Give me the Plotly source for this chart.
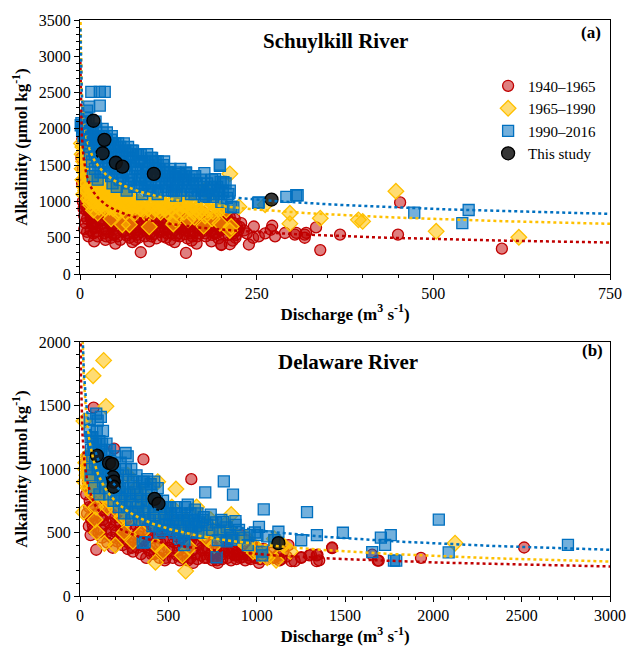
import numpy as np
import plotly.graph_objects as go
from plotly.subplots import make_subplots

# ---------------- Schuylkill River (a) ----------------
s_red_x = [2,3,2,4,5,3,6,8,4,7,9,6,10,8,
           12,14,16,18,11,13,20,15,22,17,24,15,19,23,20,25,
           27,30,33,28,35,38,31,42,45,36,40,48,44,36,50,46,49,
           52,56,60,54,64,58,68,72,62,76,66,70,78,74,75,70,78,55,
           82,88,94,84,100,90,106,96,86,104,92,108,98,86,105,110,
           112,118,126,114,132,120,138,124,116,130,136,122,128,134,135,140,
           142,150,158,146,164,154,168,144,160,148,166,152,150,165,158,162,
           172,180,188,176,194,184,198,174,190,178,196,186,200,196,
           204,212,208,218,222,206,214,210,220,216,212,198,
           228,239,246,245,253,262,270,272,276,290,304,306,318,318,320,334,340,368,450,453,597,200]
s_red_y = [2000,1850,1600,1450,1300,1250,1150,1050,1000,950,880,800,760,700,
           1200,1100,1020,950,900,850,800,760,720,680,640,600,560,580,450,520,
           1000,950,900,860,820,780,740,700,660,620,580,540,500,470,420,880,760,
           900,850,800,760,720,690,650,620,590,560,530,500,470,440,880,820,780,700,
           920,860,800,760,720,680,640,610,580,550,520,490,450,300,850,740,
           900,840,800,760,720,690,650,620,590,560,530,500,470,440,870,780,
           880,830,790,750,710,680,640,610,580,550,520,490,290,420,460,850,
           860,800,770,730,690,650,620,590,560,520,490,450,400,820,
           830,780,740,700,660,620,580,540,500,460,410,655,
           700,407,655,500,520,560,610,665,520,565,543,566,543,500,566,642,330,543,543,986,349,407]
s_red_x2 = [5,7,9,11,13,6,10,12,14,16,18,21,23,26,28,30,32,34,37,39,41,43,46,47,51,53,57,59,61,63,
            65,67,69,71,73,77,79,81,83,85,87,89,91,93,95,97,99,101,103,107,109,111,113,117,119,121,123,127,129,131,
            133,137,139,141,143,145,147,149,151,153,156,159,161,163,167,169,171,175,177,179,181,183,185,187,189,191,193,195,197,199,
            201,203,205,207,209,211,213,217,219,221,224,226,232,236]
s_red_y2 = [900,1100,1200,1000,950,620,580,520,870,780,700,640,900,820,760,690,620,560,520,860,800,740,680,610,560,520,470,780,720,660,
            600,560,840,760,700,640,600,540,500,860,720,660,600,760,700,640,560,520,860,780,700,640,580,520,700,620,560,860,760,660,
            600,700,560,520,700,760,640,600,700,640,560,520,760,700,600,560,700,640,560,760,700,640,600,540,700,620,560,760,660,600,
            700,560,640,700,760,660,620,560,760,540,600,650,600,560]

s_yel_x = [2,4,3,6,5,8,3,7,9,4,10,6,8,5,
           12,15,18,13,20,16,24,14,22,27,19,25,
           32,36,40,34,45,38,50,42,55,56,44,60,
           62,68,75,65,82,72,88,78,70,98,
           102,108,115,105,120,112,138,135,132,
           142,150,158,146,165,162,175,
           176,185,192,200,188,198,212,
           225,212,262,297,297,340,394,400,447,504,621,214]
s_yel_y = [1800,1750,1650,1600,1550,1500,1450,1400,1350,1300,1250,1200,1150,1100,
           1350,1300,1250,1200,1150,1100,1050,1000,960,920,880,840,
           1250,1200,1150,1100,1050,1000,960,920,880,1150,760,680,
           1150,1100,1050,1000,960,920,880,840,680,650,
           1100,1050,1000,960,920,880,1050,760,690,
           1080,1020,980,940,900,780,660,
           1150,1000,950,900,860,700,600,
           925,1380,955,837,694,769,746,725,1140,588,506,655]
s_yel_x2 = [11,13,15,17,19,21,23,26,28,30,31,33,35,37,39,41,43,46,47,49,51,53,54,57,59,61,63,64,66,69,
            71,74,76,79,84,86,89,91,94,96,101,103,106,111,114,117,121,124,126,129,133,136,137,141,147,149,153,156,161,163,
            169,173,177,181,187,196,207]
s_yel_y2 = [1150,1050,950,1150,1300,1000,1200,1150,1050,950,1100,1000,900,1250,1100,1050,950,1100,900,1000,1200,850,1050,950,1100,900,1000,850,950,1000,
            900,1000,900,950,1000,900,950,850,1000,900,950,850,900,950,850,950,900,850,950,900,1000,850,950,900,850,950,750,900,850,950,
            850,900,800,880,760,900,880]

s_blu_x = [16,28,35,13,28,2,4,8,10,12,
           1,3,6,15,18,22,25,12,28,20,14,24,17,26,21,29,22,18,25,
           32,38,45,35,50,42,55,33,48,58,40,52,36,44,56,46,52,
           62,68,75,82,70,88,65,78,95,85,72,92,80,98,66,88,95,100,
           102,110,118,106,125,132,114,138,122,130,110,136,135,140,
           142,150,158,146,165,155,172,162,178,176,150,175,
           198,191,199,203,198,185,195,210,188,217,200,214,253,252,292,306,308,473,550,541]
s_blu_y = [2510,2510,2510,2306,2320,2080,2020,2150,2250,2100,
           2050,1980,1900,2000,1950,1900,1850,1800,1750,1700,1650,1600,1550,1500,1450,1400,2100,1350,1300,
           2000,1950,1900,1850,1800,1750,1700,1650,1600,1550,1500,1450,1400,1350,1300,1250,1200,
           1800,1750,1700,1650,1600,1550,1500,1450,1400,1350,1300,1250,1200,1150,1150,1100,1650,1600,
           1600,1550,1500,1450,1400,1350,1300,1250,1200,1150,1100,1080,1400,1380,
           1450,1400,1350,1300,1250,1200,1150,1100,1080,1389,1389,1062,
           1506,1307,1270,1266,1492,1200,1150,1100,1062,918,995,927,986,981,1062,1085,1085,846,882,701]
s_blu_x2 = [5,7,9,11,13,14,16,19,21,23,24,26,27,29,30,31,33,34,36,37,39,40,41,43,44,46,47,49,51,53,
            54,56,57,59,60,61,63,64,66,67,69,71,73,74,76,77,79,81,83,84,86,87,89,91,93,94,96,97,99,101,
            103,104,107,108,111,112,115,116,119,120,123,124,127,128,131,133,134,137,139,143,145,148,152,154,157,160,163,167,170,174,
            177,180,183,187,190,194,197,202,206,208,212]
s_blu_y2 = [1900,2050,1850,1950,1750,2000,1850,1800,1650,2000,1750,1900,1650,1850,1550,1750,1900,1500,1700,1850,1600,1800,1400,1650,1850,1550,1750,1450,1650,1350,
            1800,1550,1750,1400,1650,1300,1500,1700,1400,1600,1250,1500,1700,1350,1550,1200,1650,1450,1300,1550,1650,1200,1400,1550,1300,1450,1200,1500,1350,1250,
            1450,1150,1550,1350,1250,1450,1150,1350,1550,1250,1400,1150,1300,1450,1250,1150,1350,1200,1300,1150,1350,1250,1150,1300,1100,1250,1350,1150,1300,1200,
            1100,1250,1150,1300,1100,1200,1100,1150,1250,1050,1150]

s_blk_x = [19,34.5,32,50.7,60,104.5,271]
s_blk_y = [2112,1849,1664,1533,1479,1379,1026]

# power-law trend lines y = a * x^b  (red, yellow, blue)
s_fit_a = [2443, 3109, 2959]
s_fit_b = [-0.261, -0.227, -0.192]

# ---------------- Delaware River (b) ----------------
d_red_x = [30,40,50,45,60,35,55,70,40,65,50,75,92,77,60,85,
           110,140,170,200,230,260,120,150,180,210,240,270,300,130,250,180,193,290,
           320,350,380,410,440,470,330,360,390,420,450,480,359,460,330,
           510,540,570,600,630,660,690,520,550,580,610,640,630,700,680,
           710,740,770,800,830,860,890,720,750,780,880,850,
           910,940,970,1000,1030,1060,1100,1130,1013,958,917,1150,1180,1197,
           1252,1252,1298,1307,1340,1344,1354,1340,1427,1427,1654,1691,1685,1930,2514,1215]
d_red_y = [1050,1000,950,900,850,800,750,700,650,600,550,520,364,1483,480,1050,
           720,680,650,620,580,550,520,490,460,430,400,370,350,600,500,700,1160,440,
           650,600,560,520,480,450,420,390,360,330,300,280,1075,550,500,
           600,560,520,480,440,400,380,350,320,300,280,260,920,450,500,
           550,500,460,420,380,350,320,300,280,260,400,450,
           480,440,400,380,350,320,300,280,261,300,305,350,400,274,
           300,305,320,325,320,325,280,274,377,382,325,279,279,300,382,274]
d_red_x2 = [42,48,52,58,62,66,72,78,82,88,95,100,105,115,125,135,145,155,165,175,185,195,205,215,225,235,245,255,265,275,
            285,295,305,315,325,335,345,355,365,375,385,395,405,415,425,435,445,455,465,475,485,495,505,515,525,535,545,555,565,575,
            585,595,605,615,625,635,645,655,665,675,685,695,705,715,725,735,745,755,765,775,785,795,805,815,825,835,845,855,865,875,
            885,895,905,915,925,935,945,955,965,975,985,995,1005,1020,1040,1060,1080,1090,1120,1140,1170]
d_red_y2 = [1100,850,700,620,950,800,560,900,640,760,580,820,500,620,460,560,700,420,580,520,380,560,500,660,460,520,440,600,480,420,
            540,380,460,560,380,470,330,520,440,300,480,400,330,460,380,560,340,420,500,360,300,440,380,500,300,420,470,360,280,430,
            380,520,340,420,300,360,480,330,290,420,320,360,300,440,360,320,400,300,350,280,380,320,290,350,420,300,340,280,380,320,
            290,350,300,400,330,280,360,320,290,400,330,300,350,290,370,290,340,300,320,290,310]

d_yel_x = [134,74,147,22,543,427,598,856,1110,138,2123,
           40,60,30,50,80,45,70,90,85,95,20,
           110,150,130,180,210,160,240,270,250,200,270,300,
           320,360,400,340,420,350,430,470,440,480,
           520,600,680,720,760,580,620,660,740,780,
           820,860,900,940,980,1020,1060,1100,1150,1190]
d_yel_y = [1855,1734,1493,1377,842,266,196,641,281,413,416,
           1100,1050,1000,950,900,850,800,700,600,500,660,
           1000,950,900,850,800,750,700,600,500,400,950,430,
           850,800,750,700,600,500,400,350,900,620,
           700,600,500,450,400,320,380,700,600,500,
           560,500,450,400,350,320,300,450,400,350]
d_yel_x2 = [25,32,38,48,58,68,78,92,98,115,135,155,165,185,205,215,235,245,265,285,
            315,335,355,385,415,435,455,485,505,535,565,585,615,645,675,705,725,775,805,850,
            880,910,940,1000,1080,1130]
d_yel_y2 = [900,1050,950,1000,900,950,850,950,800,900,800,700,900,750,680,850,620,760,680,800,
            700,620,750,680,640,560,700,560,620,560,520,600,520,560,520,500,560,520,480,520,
            460,440,460,380,360,420]

d_blu_x = [92,118,55,100,130,70,110,150,80,258,270,
           60,90,120,70,140,100,60,130,80,110,140,
           170,200,230,260,180,210,240,280,190,220,250,290,290,300,
           320,360,400,440,340,380,420,330,370,410,450,355,380,420,
           470,510,550,590,630,670,610,650,700,480,520,560,590,
           709,814,866,1040,1285,740,800,810,880,1013,1123,1004,856,780,950,1031,773,960,860,880,1030,830,
           1252,1341,1488,1703,1759,1727,1654,1777,1790,2031,2087,2762]
d_blu_y = [1436,1410,1395,1380,1300,1250,1220,1200,1150,1126,1100,
           1250,1200,1150,1100,1050,1000,950,900,850,800,950,
           1150,1100,1050,1000,950,900,850,800,750,700,650,600,1000,900,
           950,900,880,850,800,750,700,650,600,550,500,420,920,900,
           750,700,650,600,550,500,720,680,620,560,520,450,400,
           816,902,798,682,661,640,600,584,560,545,506,480,442,440,400,320,305,480,460,590,350,430,
           439,480,498,460,480,403,346,279,279,602,344,403]
d_blu_x2 = [55,62,68,75,85,95,105,115,125,135,145,155,160,165,175,185,195,205,215,225,235,245,255,265,275,285,295,305,315,325,
            335,345,350,365,375,385,395,405,415,425,435,445,455,465,475,485,495,505,515,525,535,545,555,565,575,585,595,605,615,625,
            635,645,655,665,675,685,695,720,750,770,790,830,850,900,930,990,1060,1100,366,590]
d_blu_y2 = [1300,1150,1000,1200,1050,1300,1100,950,1200,1000,850,1100,950,800,1050,900,1000,800,950,850,750,950,800,700,900,750,650,850,700,800,
            600,750,900,650,850,700,600,800,650,550,750,600,700,520,650,600,700,550,650,600,500,700,600,550,650,500,700,600,550,650,
            500,600,550,650,580,500,600,560,520,580,500,540,480,520,460,500,470,440,424,430]

d_blk_x = [96,164,182,186,191,190,422,444,1123]
d_blk_y = [1106,1048,1039,935,900,860,765,727,416]

d_fit_a = [2925, 5412, 4757]
d_fit_b = [-0.316, -0.374, -0.321]

series_names = ["1940\u20131965", "1965\u20131990", "1990\u20132016", "This study"]
# ---------------------------------------------------------

FONT = "Liberation Serif, Times New Roman, serif"
RED_L, YEL_L, BLU_L = "#C00000", "#FFC000", "#0070C0"
RED_F, YEL_F, BLU_F = "rgba(192,0,0,0.5)", "rgba(255,192,0,0.55)", "rgba(0,112,192,0.55)"

fig = make_subplots(rows=2, cols=1, vertical_spacing=0.118)

def add_panel(row, rx, ry, yx, yy, bx, by, kx, ky, fa, fb, xmax, show):
    fig.add_trace(go.Scatter(x=rx, y=ry, mode="markers", name=series_names[0], showlegend=show,
                             cliponaxis=False,
                             marker=dict(symbol="circle", size=11, color=RED_F,
                                         line=dict(color=RED_L, width=1.3))), row=row, col=1)
    fig.add_trace(go.Scatter(x=yx, y=yy, mode="markers", name=series_names[1], showlegend=show,
                             cliponaxis=False,
                             marker=dict(symbol="diamond", size=12, color=YEL_F,
                                         line=dict(color=YEL_L, width=1.3))), row=row, col=1)
    fig.add_trace(go.Scatter(x=bx, y=by, mode="markers", name=series_names[2], showlegend=show,
                             cliponaxis=False,
                             marker=dict(symbol="square", size=11, color=BLU_F,
                                         line=dict(color=BLU_L, width=1.3))), row=row, col=1)
    fig.add_trace(go.Scatter(x=kx, y=ky, mode="markers", name=series_names[3], showlegend=show,
                             cliponaxis=False,
                             marker=dict(symbol="circle", size=13, color="rgba(20,20,20,0.85)",
                                         line=dict(color="#000000", width=1.3))), row=row, col=1)
    xs = np.geomspace(0.5, xmax, 400)
    for a, b, c in zip(fa, fb, [RED_L, YEL_L, BLU_L]):
        fig.add_trace(go.Scatter(x=xs, y=a * xs ** b, mode="lines", showlegend=False,
                                 line=dict(color=c, width=2.5, dash="dot"),
                                 hoverinfo="skip"), row=row, col=1)

add_panel(1, s_red_x + s_red_x2, s_red_y + s_red_y2, s_yel_x + s_yel_x2, s_yel_y + s_yel_y2,
          s_blu_x + s_blu_x2, s_blu_y + s_blu_y2, s_blk_x, s_blk_y, s_fit_a, s_fit_b, 750, True)
add_panel(2, d_red_x + d_red_x2, d_red_y + d_red_y2, d_yel_x + d_yel_x2, d_yel_y + d_yel_y2,
          d_blu_x + d_blu_x2, d_blu_y + d_blu_y2, d_blk_x, d_blk_y, d_fit_a, d_fit_b, 3000, False)

axis_common = dict(showline=True, linecolor="black", linewidth=1, mirror=True,
                   ticks="outside", ticklen=5, tickcolor="black", showgrid=False,
                   zeroline=False, tickfont=dict(family=FONT, size=16, color="black"))

fig.update_xaxes(**axis_common)
fig.update_yaxes(**axis_common)

xt = dict(text="<b>Discharge (m<sup>3</sup> s<sup>-1</sup>)</b>",
          font=dict(family=FONT, size=17, color="black"), standoff=6)
yt = dict(text="<b>Alkalinity (\u03bcmol kg<sup>-1</sup>)</b>",
          font=dict(family=FONT, size=17, color="black"), standoff=6)

fig.update_xaxes(range=[0, 750], tick0=0, dtick=250, title=xt,
                 minor=dict(dtick=50, ticks="outside", ticklen=3, tickcolor="black"), row=1, col=1)
fig.update_yaxes(range=[0, 3500], tick0=0, dtick=500, title=yt,
                 minor=dict(dtick=100, ticks="outside", ticklen=3, tickcolor="black"), row=1, col=1)
fig.update_xaxes(range=[0, 3000], tick0=0, dtick=500, title=xt,
                 minor=dict(dtick=100, ticks="outside", ticklen=3, tickcolor="black"), row=2, col=1)
fig.update_yaxes(range=[0, 2000], tick0=0, dtick=500, title=yt,
                 minor=dict(dtick=100, ticks="outside", ticklen=3, tickcolor="black"), row=2, col=1)

ann = [
    dict(text="<b>Schuylkill River</b>", x=0.4825, y=0.919, xref="x domain", yref="y domain",
         xanchor="center", yanchor="middle",
         showarrow=False, font=dict(family=FONT, size=21, color="black")),
    dict(text="<b>(a)</b>", x=0.965, y=0.95, xref="x domain", yref="y domain",
         xanchor="center", yanchor="middle",
         showarrow=False, font=dict(family=FONT, size=17, color="black")),
    dict(text="<b>Delaware River</b>", x=0.506, y=0.922, xref="x2 domain", yref="y2 domain",
         xanchor="center", yanchor="middle",
         showarrow=False, font=dict(family=FONT, size=21, color="black")),
    dict(text="<b>(b)</b>", x=0.967, y=0.965, xref="x2 domain", yref="y2 domain",
         xanchor="center", yanchor="middle",
         showarrow=False, font=dict(family=FONT, size=17, color="black")),
]

fig.update_layout(
    width=638, height=654,
    margin=dict(l=80, r=15, t=17, b=52),
    paper_bgcolor="white", plot_bgcolor="white",
    font=dict(family=FONT, size=15, color="black"),
    annotations=ann,
    showlegend=True,
    legend=dict(x=0.77, y=0.914, xanchor="left", yanchor="top",
                bgcolor="rgba(0,0,0,0)", itemwidth=30, tracegroupgap=0,
                font=dict(family=FONT, size=15, color="black")),
)

fig.write_html("out.html")
